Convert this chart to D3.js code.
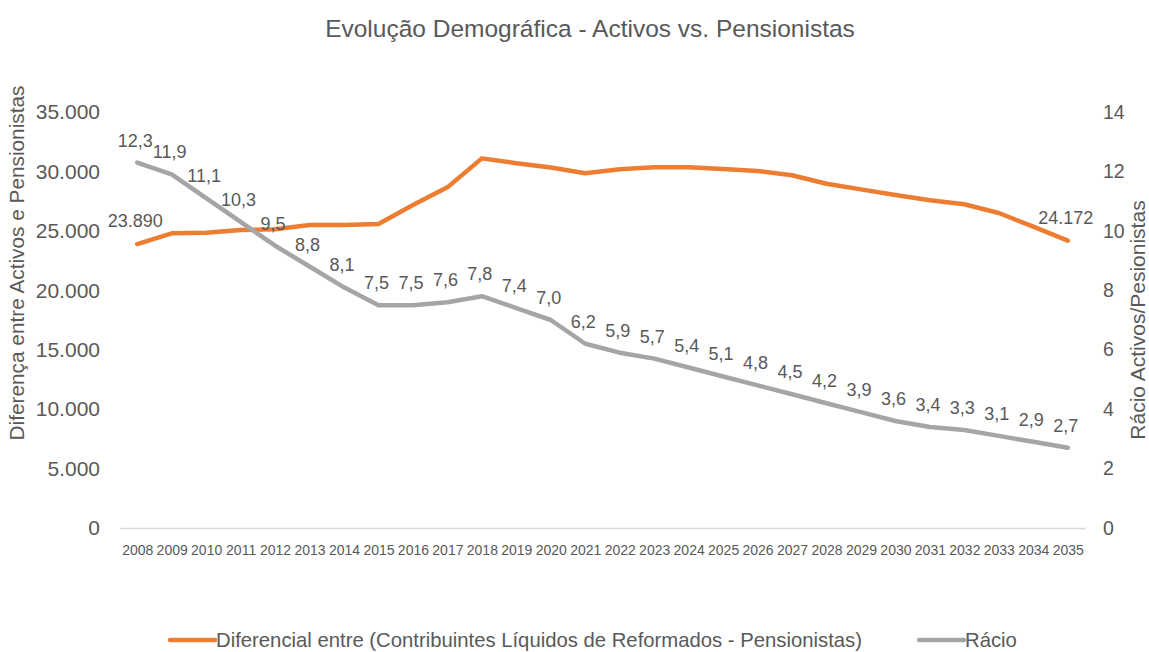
<!DOCTYPE html>
<html>
<head>
<meta charset="utf-8">
<script src="https://cdn.jsdelivr.net/npm/d3@7"></script>
<style>
  body { margin: 0; background: #fff; }
  text { font-family: "Liberation Sans", Arial, sans-serif; fill: #595959; }
</style>
</head>
<body>
<div id="chart"></div>
<script>
const WIDTH = 1149, HEIGHT = 652;
const MARGIN = { TOP: 112, BOTTOM: 124, LEFT: 120, RIGHT: 64 };

const years = d3.range(2008, 2036).map(String);
const diferencial = [23890, 24790, 24850, 25070, 25130, 25490, 25490, 25580, 27170, 28660,
  31100, 30690, 30330, 29840, 30180, 30350, 30350, 30200, 30040, 29680,
  28960, 28490, 28020, 27570, 27240, 26500, 25350, 24172];
const racio = [12.3, 11.9, 11.1, 10.3, 9.5, 8.8, 8.1, 7.5, 7.5, 7.6,
  7.8, 7.4, 7.0, 6.2, 5.9, 5.7, 5.4, 5.1, 4.8, 4.5,
  4.2, 3.9, 3.6, 3.4, 3.3, 3.1, 2.9, 2.7];
const leftTicks = [0, 5000, 10000, 15000, 20000, 25000, 30000, 35000];
const rightTicks = [0, 2, 4, 6, 8, 10, 12, 14];

const ORANGE = '#ED7D31', GREY = '#A5A5A5';
const pt = d3.formatLocale({ decimal: ',', thousands: '.', grouping: [3], currency: ['', '€'] });
const fmtThousands = pt.format(',.0f');
const fmtOne = pt.format('.1f');

const innerW = WIDTH - MARGIN.LEFT - MARGIN.RIGHT;
const innerH = HEIGHT - MARGIN.TOP - MARGIN.BOTTOM;

const svg = d3.select('#chart').append('svg')
  .attr('width', WIDTH).attr('height', HEIGHT);

const g = svg.append('g').attr('transform', `translate(${MARGIN.LEFT},${MARGIN.TOP})`);

const x = d3.scalePoint().domain(years).range([0, innerW]).padding(0.5);
const yL = d3.scaleLinear().domain([0, 35000]).range([innerH, 0]);
const yR = d3.scaleLinear().domain([0, 14]).range([innerH, 0]);

// title
svg.append('text')
  .attr('x', 590).attr('y', 37)
  .attr('text-anchor', 'middle')
  .style('font-size', '24.5px')
  .text('Evolução Demográfica - Activos vs. Pensionistas');

// axes
const xAxis = g.append('g')
  .attr('transform', `translate(0,${innerH})`)
  .call(d3.axisBottom(x).tickSize(0).tickPadding(17));
xAxis.select('.domain').attr('stroke', '#D9D9D9').attr('stroke-width', 1.5);
xAxis.selectAll('text').style('font-size', '14px').attr('fill', '#595959');

const leftAxis = g.append('g')
  .call(d3.axisLeft(yL).tickValues(leftTicks).tickFormat(fmtThousands).tickSize(0).tickPadding(20));
leftAxis.select('.domain').remove();
leftAxis.selectAll('text').style('font-size', '21px').attr('fill', '#595959');

const rightAxis = g.append('g')
  .attr('transform', `translate(${innerW},0)`)
  .call(d3.axisRight(yR).tickValues(rightTicks).tickSize(0).tickPadding(18));
rightAxis.select('.domain').remove();
rightAxis.selectAll('text').style('font-size', '19.5px').attr('fill', '#595959');

// axis titles
svg.append('text')
  .attr('transform', 'translate(24,263) rotate(-90)')
  .attr('text-anchor', 'middle')
  .style('font-size', '20.8px')
  .text('Diferença entre Activos e Pensionistas');

svg.append('text')
  .attr('transform', `translate(1145,${MARGIN.TOP + innerH / 2}) rotate(-90)`)
  .attr('text-anchor', 'middle')
  .style('font-size', '21px')
  .text('Rácio Activos/Pesionistas');

// lines
const lineL = d3.line().x((d, i) => x(years[i])).y(d => yL(d));
const lineR = d3.line().x((d, i) => x(years[i])).y(d => yR(d));

g.append('path').datum(diferencial)
  .attr('d', lineL).attr('fill', 'none')
  .attr('stroke', ORANGE).attr('stroke-width', 4.5)
  .attr('stroke-linejoin', 'round').attr('stroke-linecap', 'round');

g.append('path').datum(racio)
  .attr('d', lineR).attr('fill', 'none')
  .attr('stroke', GREY).attr('stroke-width', 4.5)
  .attr('stroke-linejoin', 'round').attr('stroke-linecap', 'round');

// data labels
g.selectAll('.lab-r').data(racio).enter().append('text')
  .attr('class', 'lab-r')
  .attr('x', (d, i) => x(years[i]) - 2)
  .attr('y', d => yR(d) - 16)
  .attr('text-anchor', 'middle')
  .style('font-size', '18px')
  .attr('fill', '#404040')
  .text(d => fmtOne(d));

const endIdx = [0, diferencial.length - 1];
g.selectAll('.lab-l').data(endIdx).enter().append('text')
  .attr('class', 'lab-l')
  .attr('x', i => x(years[i]) - 2)
  .attr('y', i => yL(diferencial[i]) - 17)
  .attr('text-anchor', 'middle')
  .style('font-size', '18px')
  .attr('fill', '#404040')
  .text(i => fmtThousands(diferencial[i]));

// legend
const legend = svg.append('g').attr('transform', 'translate(0,640)');
const items = [
  { label: 'Diferencial entre (Contribuintes Líquidos de Reformados - Pensionistas)', color: ORANGE, x: 170 },
  { label: 'Rácio', color: GREY, x: 919 }
];
const li = legend.selectAll('g').data(items).enter().append('g')
  .attr('transform', d => `translate(${d.x},0)`);
li.append('line').attr('x1', 0).attr('x2', 45).attr('y1', 0).attr('y2', 0)
  .attr('stroke', d => d.color).attr('stroke-width', 4.5).attr('stroke-linecap', 'round');
li.append('text').attr('x', 46).attr('y', 7)
  .style('font-size', '20.3px')
  .text(d => d.label);
</script>
</body>
</html>
